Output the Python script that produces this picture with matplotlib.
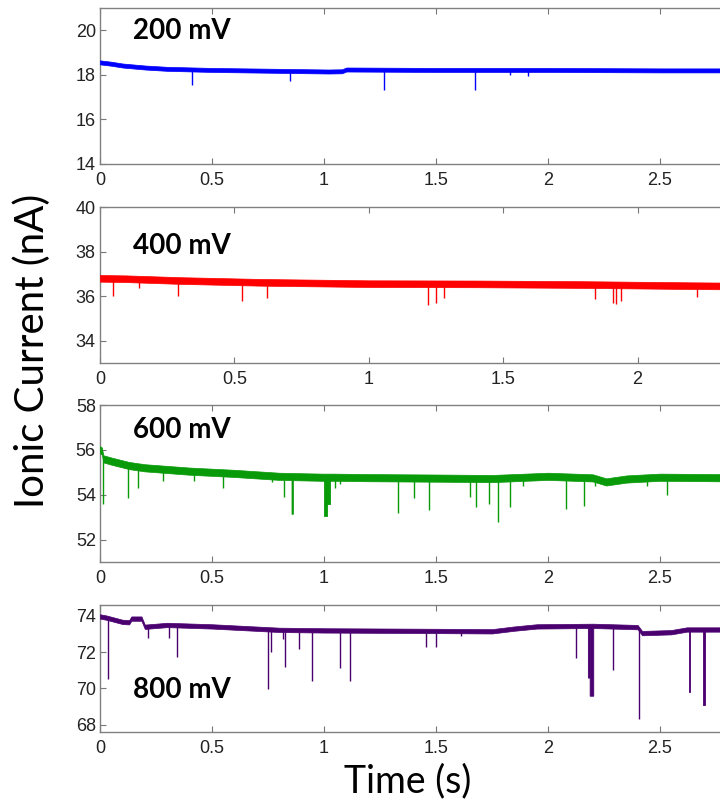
import numpy as np
import matplotlib.pyplot as plt

# baseline current of each trace (time in s, current in nA)
t200 = [0, 0.05, 0.1, 0.2, 0.3, 0.5, 0.8, 1.02, 1.08, 1.1, 1.5, 2.0, 2.5, 3.0]
i200 = [18.56, 18.5, 18.42, 18.33, 18.27, 18.22, 18.18, 18.15, 18.16, 18.24, 18.22, 18.22, 18.2, 18.2]

t400 = [0, 0.1, 0.3, 0.6, 1.0, 1.4, 1.8, 2.2, 2.5]
i400 = [36.8, 36.78, 36.7, 36.62, 36.56, 36.55, 36.52, 36.47, 36.44]

t600 = [0, 0.008, 0.015, 0.05, 0.13, 0.2, 0.4, 0.6, 0.8, 0.99, 1.04, 1.2, 1.5, 1.75,
        2.0, 2.2, 2.26, 2.35, 2.5, 2.75, 3.0]
i600 = [56.0, 55.95, 55.6, 55.5, 55.3, 55.2, 55.05, 54.95, 54.82, 54.78, 54.78, 54.76,
        54.74, 54.72, 54.82, 54.75, 54.57, 54.7, 54.78, 54.76, 54.72]

t800 = [0, 0.03, 0.1, 0.13, 0.14, 0.185, 0.2, 0.3, 0.5, 0.8, 1.0, 1.5, 1.75, 1.85, 1.95,
        2.2, 2.4, 2.42, 2.55, 2.62, 2.75, 3.0]
i800 = [73.97, 73.9, 73.67, 73.65, 73.85, 73.85, 73.4, 73.5, 73.42, 73.23, 73.2, 73.17,
        73.15, 73.3, 73.42, 73.45, 73.38, 73.05, 73.1, 73.25, 73.25, 73.25]

# short blockade spikes: (time, lowest current)
spk200 = [(0.41, 17.55), (0.85, 17.72), (1.27, 17.3), (1.675, 17.33), (1.83, 18.0), (1.91, 17.95)]
spk400 = [(0.05, 36.0), (0.146, 36.35), (0.29, 36.0), (0.53, 35.77), (0.62, 35.9),
          (1.22, 35.6), (1.25, 35.7), (1.28, 35.9), (1.84, 35.85), (1.91, 35.7),
          (1.92, 35.65), (1.94, 35.8), (2.22, 35.95), (2.31, 35.95)]
spk600 = [(0.014, 53.6), (0.125, 53.85), (0.17, 54.3), (0.28, 54.6), (0.42, 54.6),
          (0.55, 54.3), (0.77, 54.55), (0.82, 53.9), (1.05, 54.3), (1.07, 54.5),
          (1.33, 53.2), (1.40, 53.85), (1.47, 53.3), (1.65, 53.9), (1.68, 53.45),
          (1.735, 53.6), (1.775, 52.8), (1.83, 53.45), (1.89, 54.4), (2.08, 53.35),
          (2.16, 53.5), (2.21, 54.4), (2.44, 54.4), (2.53, 54.0)]
spk800 = [(0.037, 70.5), (0.215, 72.8), (0.31, 72.8), (0.345, 71.75), (0.75, 69.95),
          (0.765, 72.0), (0.815, 72.7), (0.825, 71.2), (0.89, 72.2), (0.945, 70.4),
          (1.07, 71.15), (1.115, 70.4), (1.455, 72.3), (1.5, 72.3), (1.61, 72.9),
          (2.125, 71.7), (2.29, 71.0), (2.405, 68.3)]

# longer blockades: (start, duration, level)
blk200 = []
blk400 = []
blk600 = [(0.855, 0.006, 53.15), (1.0, 0.012, 53.05), (1.012, 0.015, 53.6)]
blk800 = [(2.178, 0.008, 70.6), (2.186, 0.016, 69.6), (2.628, 0.006, 69.8), (2.692, 0.01, 69.1)]

labels = ['200 mV', '400 mV', '600 mV', '800 mV']
colors = ['#0000ff', '#ff0000', '#089a08', '#4b0070']
traces = [(t200, i200, spk200, blk200), (t400, i400, spk400, blk400),
          (t600, i600, spk600, blk600), (t800, i800, spk800, blk800)]
noise = [0.09, 0.15, 0.16, 0.12]

ylims = [(14, 21), (33, 40), (51, 58), (67.6, 74.6)]
yticks = [[14, 16, 18, 20], [34, 36, 38, 40], [52, 54, 56, 58], [68, 70, 72, 74]]
xmax = [3, 2.5, 3, 3]
label_y = [0.80, 0.70, 0.79, 0.27]

W, H = 720, 799
# axes boxes in pixels: (left, top, width, height); the right part runs off the canvas
boxes = [(100, 8, 672, 156), (100, 207, 672, 156), (100, 405, 672, 157), (100, 605, 672, 127)]

fig = plt.figure(figsize=(W / 100, H / 100), dpi=100)

for k in range(4):
    l, tp, w, h = boxes[k]
    ax = fig.add_axes([l / W, 1 - (tp + h) / H, w / W, h / H])
    t, cur, spk, blk = traces[k]
    t = np.array(t)
    cur = np.array(cur)
    c = colors[k]
    ax.fill_between(t, cur - noise[k], cur + noise[k], color=c, lw=0.5, zorder=3)
    for ts, lo in spk:
        ax.vlines(ts, lo, np.interp(ts, t, cur), color=c, lw=1.0, zorder=2)
    for t0, d, lo in blk:
        ax.fill_between([t0, t0 + d], [lo, lo], np.interp([t0, t0 + d], t, cur),
                        color=c, lw=0.6, zorder=2)

    ax.set_xlim(0, xmax[k])
    ax.set_ylim(*ylims[k])
    ax.set_yticks(yticks[k])
    # the last tick sits past the right edge of the canvas, so it is left out
    xt = np.arange(0, xmax[k] - 0.01, 0.5)
    ax.set_xticks(xt)
    ax.set_xticklabels(['%g' % v for v in xt])
    ax.tick_params(direction='in', length=4, width=0.8, color='#777777',
                   labelsize=13, labelcolor='#222222', top=True, right=True)
    ax.tick_params(axis='x', pad=6)
    ax.tick_params(axis='y', pad=3)
    for lab in ax.get_xticklabels() + ax.get_yticklabels():
        lab.set_family('Liberation Sans')
    for s in ax.spines.values():
        s.set_color('#808080')
        s.set_linewidth(1.0)
    ax.text(0.049, label_y[k], labels[k], transform=ax.transAxes, fontsize=20,
            fontweight='bold', family='Lato', color='black')

fig.text(32 / W, 1 - 351 / H, 'Ionic Current (nA)', rotation=90, fontsize=29,
         family='Lato', ha='center', va='center')
fig.text(408 / W, 1 - 792 / H, 'Time (s)', fontsize=27, family='Lato',
         ha='center', va='baseline')

fig.savefig('out.png', dpi=100)
